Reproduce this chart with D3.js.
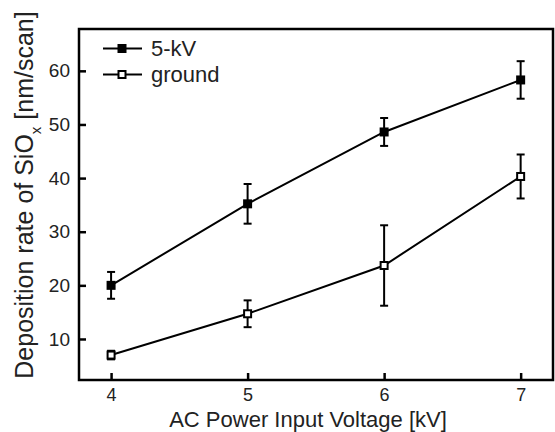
<!DOCTYPE html>
<html>
<head>
<meta charset="utf-8">
<script src="https://cdn.jsdelivr.net/npm/d3@7"></script>
<style>
  body { margin: 0; background: #fff; }
  svg { display: block; font-family: "Liberation Sans", Arial, sans-serif; }
</style>
</head>
<body>
<div id="chart"></div>
<script>
// Data
const voltages = [4, 5, 6, 7];
const kvMean = [20.0, 35.2, 48.6, 58.3];
const kvErr = [2.5, 3.7, 2.6, 3.5];
const groundMean = [7.0, 14.7, 23.7, 40.3];
const groundErr = [0.8, 2.5, 7.5, 4.1];
const xTicks = [4, 5, 6, 7];
const yTicks = [10, 20, 30, 40, 50, 60];

const W = 555, H = 432;
const margin = { top: 29, right: 2, bottom: 52, left: 79 };
const width = W - margin.left - margin.right;
const height = H - margin.top - margin.bottom;

const svg = d3.select('#chart').append('svg')
  .attr('width', W).attr('height', H);

const g = svg.append('g')
  .attr('transform', `translate(${margin.left},${margin.top})`);

const x = d3.scaleLinear().domain([3.765, 7.237]).range([0, width]);
const y = d3.scaleLinear().domain([2.35, 67.8]).range([height, 0]);

// Axes with inward ticks
const xAxis = g.append('g')
  .attr('transform', `translate(0,${height})`)
  .call(d3.axisBottom(x).tickValues(xTicks).tickSizeInner(-7).tickSizeOuter(0).tickPadding(8).tickFormat(d3.format('d')));
const yAxis = g.append('g')
  .call(d3.axisLeft(y).tickValues(yTicks).tickSizeInner(-7).tickSizeOuter(0).tickPadding(9).tickFormat(d3.format('d')));

[xAxis, yAxis].forEach(a => {
  a.select('.domain').remove();
  a.selectAll('line').attr('stroke', '#000').attr('stroke-width', 2.5);
  a.selectAll('text').attr('font-size', '19px').attr('fill', '#222');
});
xAxis.selectAll('text').attr('font-size', '18px');

// Frame
g.append('rect')
  .attr('width', width).attr('height', height)
  .attr('fill', 'none').attr('stroke', '#000').attr('stroke-width', 2.5);

const series = [
  { name: '5-kV', mean: kvMean, err: kvErr, filled: true },
  { name: 'ground', mean: groundMean, err: groundErr, filled: false }
];

const line = d3.line().x(d => x(d.v)).y(d => y(d.m));

series.forEach(s => {
  const pts = voltages.map((v, i) => ({ v, m: s.mean[i], e: s.err[i] }));

  g.append('path')
    .datum(pts)
    .attr('d', line)
    .attr('fill', 'none')
    .attr('stroke', '#000')
    .attr('stroke-width', 2);

  // Error bars
  const eb = g.append('g').selectAll('g').data(pts).join('g');
  eb.append('line')
    .attr('x1', d => x(d.v)).attr('x2', d => x(d.v))
    .attr('y1', d => y(d.m - d.e)).attr('y2', d => y(d.m + d.e))
    .attr('stroke', '#000').attr('stroke-width', 2);
  [-1, 1].forEach(sign => {
    eb.append('line')
      .attr('x1', d => x(d.v) - 4).attr('x2', d => x(d.v) + 4)
      .attr('y1', d => y(d.m + sign * d.e)).attr('y2', d => y(d.m + sign * d.e))
      .attr('stroke', '#000').attr('stroke-width', 2);
  });

  // Markers
  g.append('g').selectAll('rect').data(pts).join('rect')
    .attr('x', d => x(d.v) - (s.filled ? 4.5 : 3.5))
    .attr('y', d => y(d.m) - (s.filled ? 4.5 : 3.5))
    .attr('width', s.filled ? 9 : 7)
    .attr('height', s.filled ? 9 : 7)
    .attr('fill', s.filled ? '#000' : '#fff')
    .attr('stroke', '#000')
    .attr('stroke-width', s.filled ? 0 : 2);
});

// Legend
const legend = svg.append('g');
series.forEach((s, i) => {
  const ly = 48.5 + i * 26;
  legend.append('line')
    .attr('x1', 103).attr('x2', 142).attr('y1', ly).attr('y2', ly)
    .attr('stroke', '#000').attr('stroke-width', 2);
  legend.append('rect')
    .attr('x', 122 - (s.filled ? 4.5 : 3.5)).attr('y', ly - (s.filled ? 4.5 : 3.5))
    .attr('width', s.filled ? 9 : 7).attr('height', s.filled ? 9 : 7)
    .attr('fill', s.filled ? '#000' : '#fff')
    .attr('stroke', '#000').attr('stroke-width', s.filled ? 0 : 2);
  legend.append('text')
    .attr('x', 151).attr('y', ly + 7)
    .attr('font-size', '22px').attr('fill', '#222')
    .text(s.name);
});

// Axis titles
svg.append('text')
  .attr('x', 308).attr('y', 427)
  .attr('text-anchor', 'middle')
  .attr('font-size', '22px').attr('fill', '#222')
  .text('AC Power Input Voltage [kV]');

const yl = svg.append('text')
  .attr('transform', 'translate(33,195) rotate(-90)')
  .attr('text-anchor', 'middle')
  .attr('font-size', '25px').attr('fill', '#222');
yl.append('tspan').text('Deposition rate of SiO');
yl.append('tspan').attr('font-size', '15px').attr('dy', 8).text('x');
yl.append('tspan').attr('dy', -8).text(' [nm/scan]');
</script>
</body>
</html>
